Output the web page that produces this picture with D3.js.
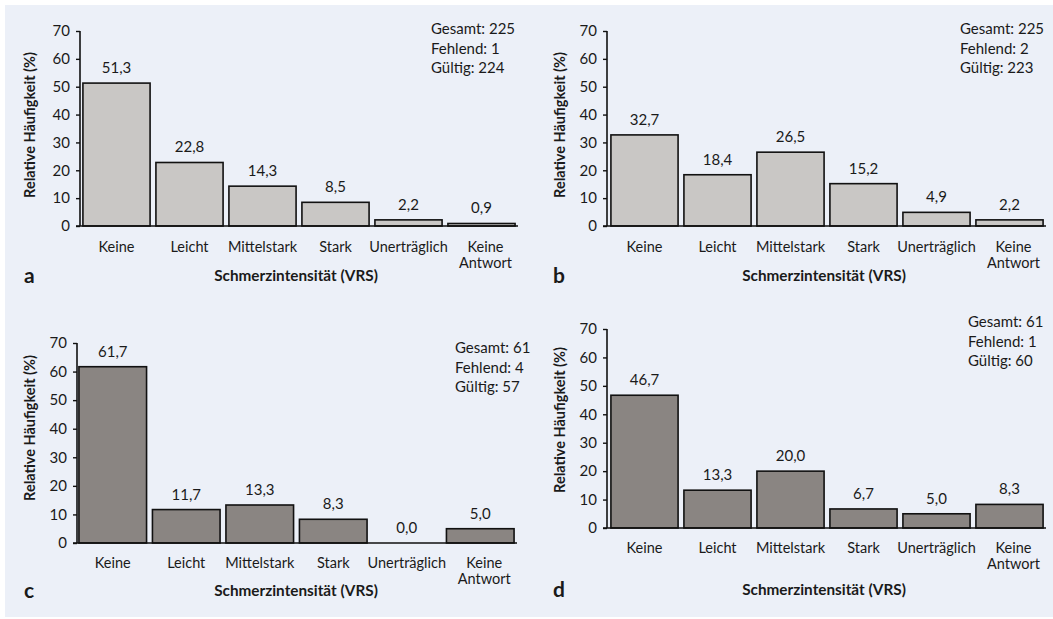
<!DOCTYPE html>
<html>
<head>
<meta charset="utf-8">
<script src="https://cdn.jsdelivr.net/npm/d3@7"></script>
<style>
  html, body { margin: 0; padding: 0; background: #ffffff; }
  svg { display: block; }
  text { font-family: Lato, "Open Sans", sans-serif; fill: #1a1a1a; }
</style>
</head>
<body>
<svg id="chart" width="1053" height="619"></svg>
<script>
const categories = ["Keine", "Leicht", "Mittelstark", "Stark", "Unerträglich", "Keine Antwort"];
const valuesA = [51.3, 22.8, 14.3, 8.5, 2.2, 0.9];
const valuesB = [32.7, 18.4, 26.5, 15.2, 4.9, 2.2];
const valuesC = [61.7, 11.7, 13.3, 8.3, 0.0, 5.0];
const valuesD = [46.7, 13.3, 20.0, 6.7, 5.0, 8.3];
const statsA = ["Gesamt: 225", "Fehlend: 1", "Gültig: 224"];
const statsB = ["Gesamt: 225", "Fehlend: 2", "Gültig: 223"];
const statsC = ["Gesamt: 61", "Fehlend: 4", "Gültig: 57"];
const statsD = ["Gesamt: 61", "Fehlend: 1", "Gültig: 60"];
const yTicks = [0, 10, 20, 30, 40, 50, 60, 70];
const panelLetters = ["a", "b", "c", "d"];
const yTitle = "Relative Häufigkeit (%)";
const xTitle = "Schmerzintensität (VRS)";

const lightFill = "#c9c7c5";
const darkFill = "#8a8582";

const panels = [
  { values: valuesA, stats: statsA, letter: panelLetters[0], fill: lightFill,
    axisX: 80, y0: 226, yTop: 31, xr: [80, 518], catY: 252, titleY: 281, titleX: 296,
    letterX: 24, letterY: 283, statsX: 431, statsY: 34, yTitleX: 35, yTitleY: 125 },
  { values: valuesB, stats: statsB, letter: panelLetters[1], fill: lightFill,
    axisX: 607, y0: 226, yTop: 31, xr: [608, 1046], catY: 252, titleY: 281, titleX: 824,
    letterX: 553, letterY: 283, statsX: 960, statsY: 34, yTitleX: 565, yTitleY: 125 },
  { values: valuesC, stats: statsC, letter: panelLetters[2], fill: darkFill,
    axisX: 77, y0: 543, yTop: 343, xr: [76, 517], catY: 568, titleY: 596, titleX: 296,
    letterX: 24, letterY: 598, statsX: 455, statsY: 353, yTitleX: 35, yTitleY: 428 },
  { values: valuesD, stats: statsD, letter: panelLetters[3], fill: darkFill,
    axisX: 607, y0: 528, yTop: 329, xr: [608, 1046], catY: 553, titleY: 595, titleX: 824,
    letterX: 553, letterY: 597, statsX: 968, statsY: 327, yTitleX: 565, yTitleY: 420 }
];

const svg = d3.select("#chart");
svg.append("rect").attr("x", 5).attr("y", 5).attr("width", 1048).attr("height", 612)
  .attr("fill", "#ecf0f8");

const fmt = v => v.toFixed(1).replace(".", ",");
const FS = 15;

panels.forEach(p => {
  const g = svg.append("g");
  const x = d3.scaleBand().domain(categories).range(p.xr).paddingInner(0.08).paddingOuter(0.04);
  const y = d3.scaleLinear().domain([0, 70]).range([p.y0, p.yTop]);

  // bars
  g.selectAll("rect.bar").data(p.values.map((v, i) => ({ c: categories[i], v })))
    .join("rect").attr("class", "bar")
    .filter(d => d.v > 0)
    .attr("x", d => x(d.c)).attr("width", x.bandwidth())
    .attr("y", d => y(d.v)).attr("height", d => y(0) - y(d.v))
    .attr("fill", p.fill).attr("stroke", "#111").attr("stroke-width", 1.6);

  // value labels
  g.selectAll("text.val").data(p.values.map((v, i) => ({ c: categories[i], v })))
    .join("text").attr("class", "val")
    .attr("x", d => x(d.c) + x.bandwidth() / 2)
    .attr("y", d => y(d.v) - 10)
    .attr("text-anchor", "middle").attr("font-size", FS)
    .text(d => fmt(d.v));

  // y axis
  const yAxis = d3.axisLeft(y).tickValues(yTicks).tickSize(4).tickPadding(6).tickFormat(d3.format("d"));
  const ya = g.append("g").attr("transform", `translate(${p.axisX},0)`).call(yAxis);
  ya.select(".domain").attr("d", `M0,${p.y0}V${p.yTop}`).attr("stroke", "#111").attr("stroke-width", 1.6);
  ya.selectAll(".tick line").attr("stroke", "#111").attr("stroke-width", 1.4);
  ya.selectAll(".tick text").attr("font-size", FS).attr("fill", "#1a1a1a")
    .attr("font-family", "Lato, 'Open Sans', sans-serif");

  // x baseline
  g.append("line").attr("x1", p.axisX - 4).attr("x2", p.xr[1])
    .attr("y1", p.y0).attr("y2", p.y0).attr("stroke", "#111").attr("stroke-width", 1.6);

  // category labels (multi-word labels split into separate lines)
  const lines = [];
  categories.forEach(c => {
    const parts = c.split(" ");
    parts.forEach((s, i) => lines.push({ c, s, i, multi: parts.length > 1 }));
  });
  g.selectAll("text.cat").data(lines).join("text").attr("class", "cat")
    .attr("x", d => x(d.c) + x.bandwidth() / 2 + (d.multi ? 4 : 0))
    .attr("y", d => p.catY + d.i * 16)
    .attr("text-anchor", "middle").attr("font-size", 14.5)
    .text(d => d.s);

  // x title
  g.append("text").attr("x", p.titleX).attr("y", p.titleY).attr("text-anchor", "middle")
    .attr("font-size", 15.3).attr("font-weight", "bold").text(xTitle);

  // y title
  g.append("text").attr("transform", `translate(${p.yTitleX},${p.yTitleY}) rotate(-90)`)
    .attr("text-anchor", "middle").attr("font-size", 14.5).attr("font-weight", "bold").text(yTitle);

  // letter
  g.append("text").attr("x", p.letterX).attr("y", p.letterY)
    .attr("font-size", 21).attr("font-weight", "bold").text(p.letter);

  // stats
  g.selectAll("text.stat").data(p.stats).join("text").attr("class", "stat")
    .attr("x", p.statsX).attr("y", (d, i) => p.statsY + i * 19.5)
    .attr("font-size", FS).text(d => d);
});
</script>
</body>
</html>
